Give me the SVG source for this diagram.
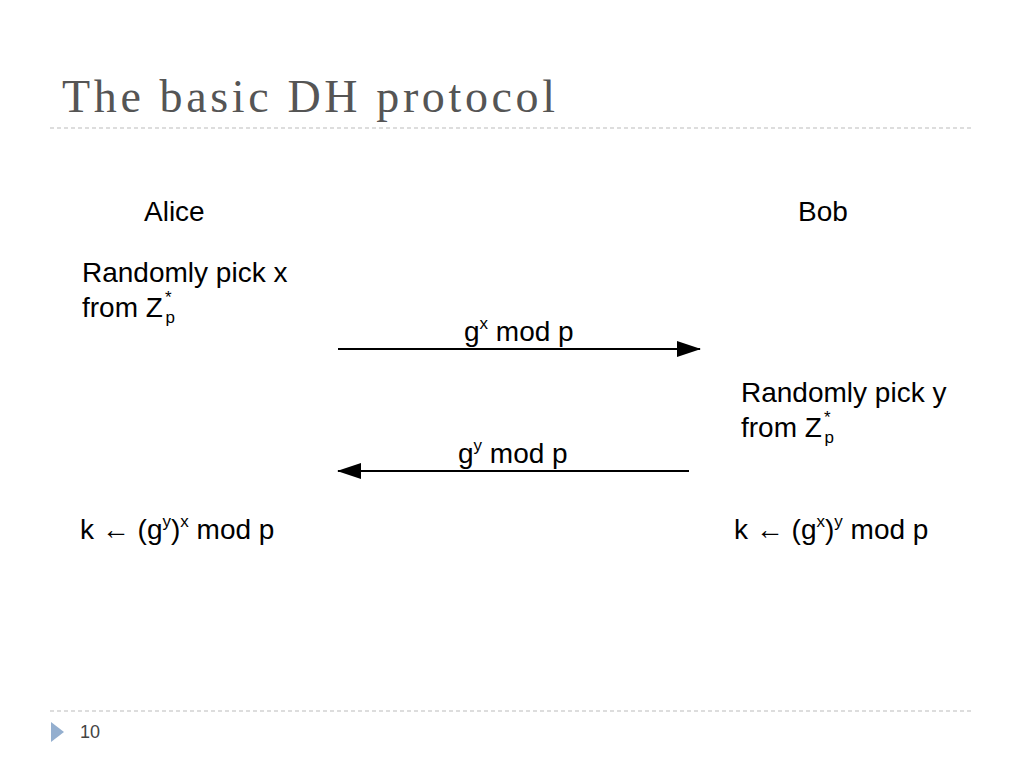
<svg xmlns="http://www.w3.org/2000/svg" width="1024" height="768" viewBox="0 0 1024 768">
<style>
.t{font-family:"Liberation Sans",Arial,sans-serif;font-size:28px;fill:#000}
.s{font-family:"Liberation Sans",Arial,sans-serif;font-size:17px;fill:#000}
.sep{stroke:#bbb;stroke-width:1;stroke-dasharray:4 3}
</style>
<defs><marker id="ah" markerWidth="24" markerHeight="16" refX="23" refY="8" orient="auto" markerUnits="userSpaceOnUse"><path d="M0,0 L24,8 L0,16 Z" fill="#000"/></marker></defs>
<rect width="1024" height="768" fill="#fff"/>
<text x="62" y="112" font-family="Liberation Serif,serif" font-size="46" fill="#555" textLength="493" lengthAdjust="spacing">The basic DH protocol</text>
<line class="sep" x1="50" y1="128" x2="972" y2="128"/>
<line class="sep" x1="50" y1="711" x2="972" y2="711"/>
<polygon points="51,722 64,732 51,742" fill="#94afcf"/>
<text x="80" y="738" font-family="Liberation Sans,sans-serif" font-size="18" fill="#444">10</text>
<g id="alice"><text class="t" x="144" y="221" font-size="30">Alice</text></g>
<g id="bob"><text class="t" x="798" y="221" font-size="30">Bob</text></g>
<g id="alice-pick"><text class="t" x="82" y="282">Randomly pick x</text><text class="t" x="82" y="317">from Z<tspan class="s" dx="2" dy="-14">*</tspan><tspan class="s" dx="-6" dy="20">p</tspan></text></g>
<g id="bob-pick"><text class="t" x="741" y="402">Randomly pick y</text><text class="t" x="741" y="437">from Z<tspan class="s" dx="2" dy="-14">*</tspan><tspan class="s" dx="-6" dy="20">p</tspan></text></g>
<g id="alice-key"><text class="t" x="80" y="539">k <tspan font-weight="bold">←</tspan> (g<tspan class="s" dy="-12">y</tspan><tspan dy="12">)</tspan><tspan class="s" dy="-12">x</tspan><tspan dy="12"> mod p</tspan></text></g>
<g id="bob-key"><text class="t" x="734" y="539">k <tspan font-weight="bold">←</tspan> (g<tspan class="s" dy="-12">x</tspan><tspan dy="12">)</tspan><tspan class="s" dy="-12">y</tspan><tspan dy="12"> mod p</tspan></text></g>
<g id="connectors">
<line x1="338" y1="349" x2="700" y2="349" stroke="#000" stroke-width="2" marker-end="url(#ah)"/>
<text class="t" x="464" y="341">g<tspan class="s" dy="-12">x</tspan><tspan dy="12"> mod p</tspan></text>
<line x1="689" y1="471" x2="338" y2="471" stroke="#000" stroke-width="2" marker-end="url(#ah)"/>
<text class="t" x="458" y="463">g<tspan class="s" dy="-12">y</tspan><tspan dy="12"> mod p</tspan></text>
</g>
</svg>
